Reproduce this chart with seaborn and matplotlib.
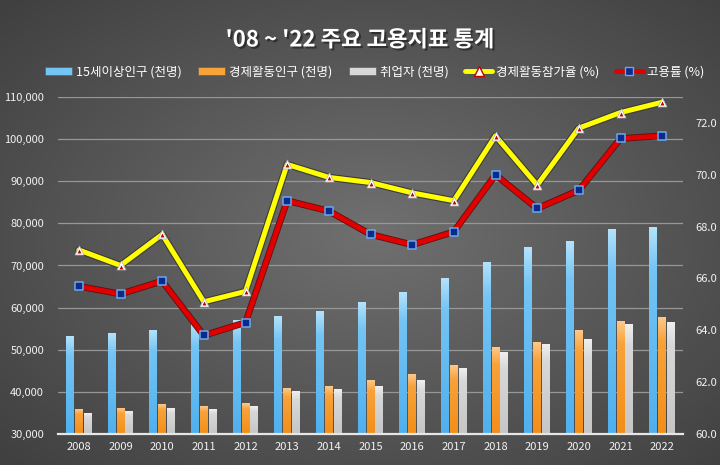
import matplotlib.pyplot as plt
import matplotlib.patheffects as pe
from matplotlib.colors import LinearSegmentedColormap
from matplotlib.lines import Line2D
from matplotlib.patches import Patch
import numpy as np
import pandas as pd
import seaborn as sns

years = [str(y) for y in range(2008, 2023)]
pop_15 = [53160, 53950, 54590, 55940, 56880, 57980, 59170, 61150,
          63520, 67000, 70650, 74370, 75800, 78490, 79130]
econ_active = [35770, 36170, 37110, 36640, 37350, 40910, 41380, 42600,
               44100, 46240, 50520, 51710, 54490, 56780, 57730]
employed = [34980, 35450, 36090, 35930, 36560, 40040, 40670, 41350,
            42680, 45450, 49260, 51160, 52500, 55990, 56470]
part_rate = [67.1, 66.5, 67.7, 65.1, 65.5, 70.4, 69.9, 69.7,
             69.3, 69.0, 71.5, 69.6, 71.8, 72.4, 72.8]
emp_rate = [65.7, 65.4, 65.9, 63.8, 64.3, 69.0, 68.6, 67.7,
            67.3, 67.8, 70.0, 68.7, 69.4, 71.4, 71.5]

bar_labels = ["15세이상인구 (천명)", "경제활동인구 (천명)", "취업자 (천명)"]
line_labels = ["경제활동참가율 (%)", "고용률 (%)"]
title = "'08 ~ '22 주요 고용지표 통계"

# bottom / middle / top colours of each bar gradient
bar_grad = [("#4fb0ee", "#74c4f4", "#b3e2fb"),
            ("#f38e18", "#f8a23a", "#fdc888"),
            ("#c6c6c6", "#d8d8d8", "#efefef")]

sns.set_theme(style="white")
plt.rcParams["font.family"] = ["Noto Sans CJK KR", "DejaVu Sans"]

fig = plt.figure(figsize=(7.2, 4.65), dpi=100)

# background gradient
bg = fig.add_axes([0, 0, 1, 1], zorder=-10)
yy, xx = np.mgrid[0:1:200j, 0:1:300j]
r = np.sqrt(((xx - 0.52) / 0.75) ** 2 + ((yy - 0.5) / 0.75) ** 2)
bg.imshow(r, cmap=LinearSegmentedColormap.from_list("bg", ["#707070", "#404040"]),
          aspect="auto", extent=[0, 1, 0, 1], vmin=0, vmax=0.95)
bg.axis("off")

ax = fig.add_axes([58 / 720, 1 - 434 / 465, 625 / 720, 337 / 465])
ax.set_facecolor("none")

df = pd.DataFrame({"year": years, bar_labels[0]: pop_15,
                   bar_labels[1]: econ_active, bar_labels[2]: employed})
long = df.melt(id_vars="year", var_name="series", value_name="value")
sns.barplot(data=long, x="year", y="value", hue="series",
            palette=[g[1] for g in bar_grad], saturation=1,
            width=0.63, gap=0.1, legend=False, ax=ax, zorder=2)

YMIN, YMAX = 30000, 110000

# paint vertical gradients into the bars (visible part only)
for i, bar in enumerate(ax.patches):
    bot, mid, top = bar_grad[i // len(years)]
    cm = LinearSegmentedColormap.from_list("g", [(0, bot), (0.8, mid), (1, top)])
    x0, w = bar.get_x(), bar.get_width()
    y1 = bar.get_y() + bar.get_height()
    grad = np.linspace(0, 1, 128).reshape(-1, 1)
    ax.imshow(grad, cmap=cm, origin="lower", aspect="auto",
              extent=[x0, x0 + w, YMIN, y1], zorder=2.5)
    bar.set_visible(False)
ax.set_xlim(-0.5, len(years) - 0.5)
ax.set_ylim(YMIN, YMAX)

ax.set_yticks(range(YMIN, YMAX + 1, 10000))
ax.set_yticklabels([f"{v:,}" for v in range(YMIN, YMAX + 1, 10000)])
ax.yaxis.grid(True, color="#979797", lw=0.9, zorder=0)
ax.set_axisbelow(True)
ax.set_xlabel("")
ax.set_ylabel("")
for s in ["top", "left", "right"]:
    ax.spines[s].set_visible(False)
ax.spines["bottom"].set_color("#e6e6e6")
ax.spines["bottom"].set_linewidth(1.6)
ax.spines["bottom"].set_zorder(5)
ax.tick_params(axis="y", colors="#f2f2f2", labelsize=8, length=0, pad=10)
ax.tick_params(axis="x", colors="#f2f2f2", labelsize=8, length=0, pad=6)

# lines on the secondary axis
ax2 = ax.twinx()
xpos = np.arange(len(years))
sns.lineplot(x=xpos, y=part_rate, ax=ax2, color="#ffff00", lw=3.6,
             path_effects=[pe.Stroke(linewidth=5.2, foreground="#3a3a3a"), pe.Normal()],
             zorder=3)
sns.lineplot(x=xpos, y=emp_rate, ax=ax2, color="#e00000", lw=3.6,
             path_effects=[pe.Stroke(linewidth=4.8, foreground="#5a1010"), pe.Normal()],
             zorder=3)
ax2.scatter(xpos, part_rate, marker="^", s=42, color="white",
            edgecolor="#b0b0b0", lw=0.5, zorder=4)
ax2.scatter(xpos, np.array(part_rate) - 0.04, marker="^", s=8, color="#c00000",
            lw=0, zorder=5)
ax2.scatter(xpos, emp_rate, marker="s", s=34, color="#0a2a8c",
            edgecolor="#6aa8e8", lw=1.1, zorder=4)

ax2.set_ylim(60, 73)
ax2.set_yticks(np.arange(60, 72.1, 2))
ax2.set_yticklabels([f"{v:.1f}" for v in np.arange(60, 72.1, 2)])
ax2.set_xlim(-0.5, len(years) - 0.5)
for s in ["top", "left", "right", "bottom"]:
    ax2.spines[s].set_visible(False)
ax2.tick_params(axis="y", colors="#f2f2f2", labelsize=8, length=0, pad=9)

# title and legend
fig.text(0.5, 1 - 40 / 465, title, ha="center", va="center", fontsize=16,
         weight="bold", color="white",
         path_effects=[pe.withSimplePatchShadow(offset=(1.5, -1.5),
                                                shadow_rgbFace="#222222", alpha=0.7)])

handles = [Patch(facecolor=bar_grad[i][1], edgecolor="#555555", lw=0.4) for i in range(3)]
handles.append(Line2D([], [], color="#ffff00", lw=3.5, marker="^", ms=7,
                      markerfacecolor="white", markeredgecolor="#c00000"))
handles.append(Line2D([], [], color="#e00000", lw=3.5, marker="s", ms=6,
                      markerfacecolor="#0a2a8c", markeredgecolor="#6aa8e8"))
leg = fig.legend(handles, bar_labels + line_labels, loc="center",
                 bbox_to_anchor=(0.52, 1 - 72 / 465), ncol=5, frameon=False,
                 fontsize=9, labelcolor="white", handlelength=2.2, handleheight=0.6,
                 columnspacing=1.3, handletextpad=0.3)

fig.savefig("out.png", dpi=100)
